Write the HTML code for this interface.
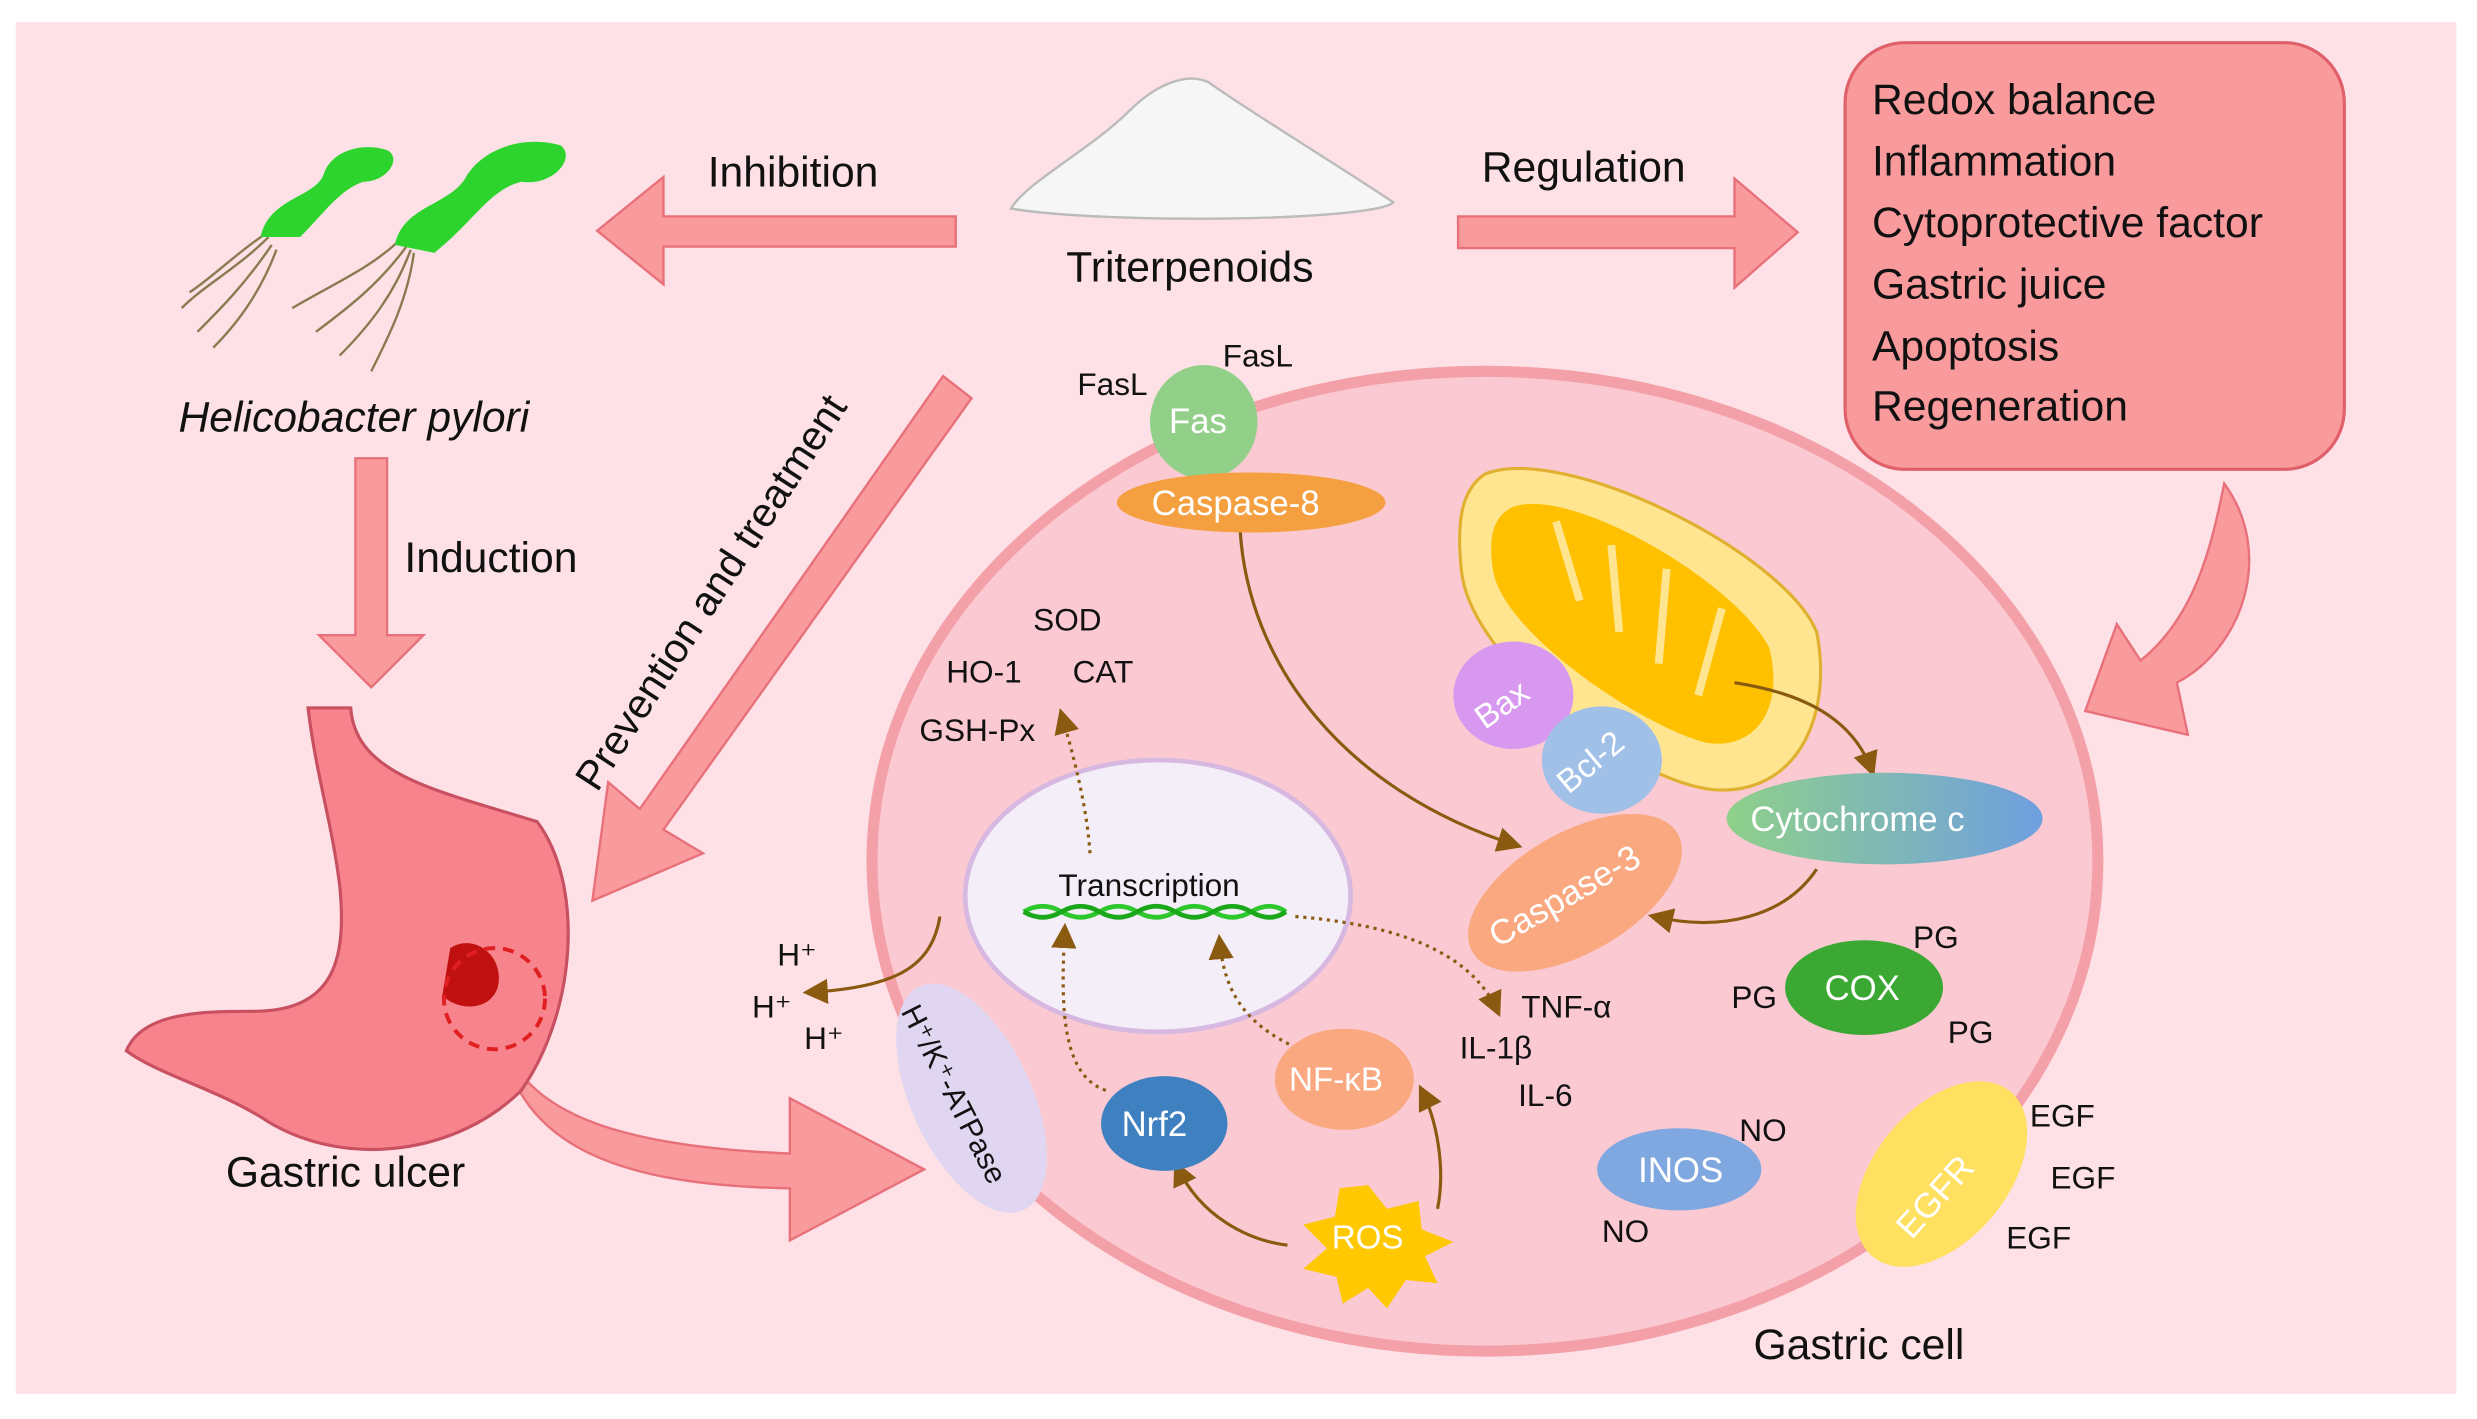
<!DOCTYPE html>
<html><head><meta charset="utf-8"><style>
html,body{margin:0;padding:0;background:#fff;}
svg{display:block;}
text{font-family:"Liberation Sans",sans-serif;}
</style></head><body>
<svg width="2477" height="1419" viewBox="0 0 1568 898" preserveAspectRatio="none" xmlns="http://www.w3.org/2000/svg">
<defs>
<linearGradient id="cyt" x1="0" x2="1"><stop offset="0" stop-color="#8fd08a"/><stop offset="1" stop-color="#6f9fe0"/></linearGradient>
<marker id="ah" markerWidth="8" markerHeight="8" refX="6" refY="4" orient="auto"><path d="M0,0 L8,4 L0,8 z" fill="#8a5a10"/></marker>
</defs>
<rect x="0" y="0" width="1568" height="898" fill="#fff"/>
<rect x="10" y="14" width="1545" height="868" fill="#fde1e7"/>
<ellipse cx="940" cy="545" rx="388" ry="310" fill="#fbc9d2" stroke="#f4a0a8" stroke-width="7"/>
<polygon points="605,137 420,137 420,112 378,146 420,180 420,156 605,156" fill="#f99a9c" stroke="#e8707a" stroke-width="1.5"/>
<polygon points="923,137 1098,137 1098,113 1138,147 1098,182 1098,157 923,157" fill="#f99a9c" stroke="#e8707a" stroke-width="1.5"/>
<polygon points="225,290 245,290 245,402 268,402 235,435 202,402 225,402" fill="#f99a9c" stroke="#e8707a" stroke-width="1.5"/>
<polygon points="597,238 615,252 420,525 445,540 375,570 385,495 405,512" fill="#f99a9c" stroke="#e8707a" stroke-width="1.5"/>
<path d="M1408,306 C1440,350 1420,410 1378,432 L1385,465 L1320,450 L1340,395 L1355,418 C1390,390 1400,345 1408,306 z" fill="#f99a9c" stroke="#e8707a" stroke-width="1.5"/>
<path d="M315,640 C320,700 380,725 500,730 L500,695 L585,740 L500,785 L500,752 C380,750 320,720 315,640 z" fill="#f99a9c" stroke="#e8707a" stroke-width="1.5"/>
<rect x="1168" y="27" width="316" height="270" rx="38" fill="#f99a9c" stroke="#e0606a" stroke-width="2"/>
<g font-size="27" fill="#111">
<text x="1185" y="72">Redox balance</text>
<text x="1185" y="111">Inflammation</text>
<text x="1185" y="150">Cytoprotective factor</text>
<text x="1185" y="189">Gastric juice</text>
<text x="1185" y="228">Apoptosis</text>
<text x="1185" y="266">Regeneration</text>
</g>
<path d="M640,132 C650,115 690,95 715,70 C730,55 750,45 765,52 C790,70 840,100 882,128 C870,140 700,142 640,132 z" fill="#f6f6f6" stroke="#bbb" stroke-width="1.5"/>
<g font-size="27" fill="#111">
<text x="448" y="118">Inhibition</text>
<text x="938" y="115">Regulation</text>
<text x="675" y="178">Triterpenoids</text>
<text x="113" y="273" font-style="italic">Helicobacter pylori</text>
<text x="256" y="362">Induction</text>
<text x="143" y="751">Gastric ulcer</text>
<text x="1110" y="860">Gastric cell</text>
<text transform="translate(378,502) rotate(-57)" font-size="26">Prevention and treatment</text>
</g>
<g stroke="#8a7a50" stroke-width="1.5" fill="none">
<path d="M170,150 C150,170 130,180 115,195"/><path d="M172,155 C155,180 140,195 125,210"/><path d="M175,158 C165,185 150,205 135,220"/><path d="M168,148 C150,160 135,175 120,185"/>
<path d="M255,150 C235,170 210,180 185,195"/><path d="M258,155 C240,180 220,195 200,210"/><path d="M260,158 C250,185 235,205 215,225"/><path d="M262,160 C258,190 245,215 235,235"/>
</g>
<path d="M165,150 C170,125 200,125 205,110 C210,95 230,90 245,95 C255,100 245,115 230,115 C215,120 205,135 190,150 z" fill="#2ed42e"/>
<path d="M250,155 C255,130 285,130 295,112 C305,95 330,85 355,92 C365,100 350,118 330,115 C310,120 300,140 275,160 z" fill="#2ed42e"/>
<path d="M195,448 L222,448 C225,490 275,500 340,520 C370,560 365,640 330,690 C290,730 220,740 170,710 C140,690 100,680 80,665 C90,640 130,640 160,640 C210,640 220,610 215,560 C210,520 200,490 195,448 z" fill="#f7848c" stroke="#c85060" stroke-width="2"/>
<path d="M285,600 C300,590 320,605 315,625 C310,640 290,640 280,630 z" fill="#c01010"/>
<circle cx="313" cy="632" r="32" fill="none" stroke="#e02020" stroke-width="2.5" stroke-dasharray="7,5"/>
<path d="M940,300 C990,280 1130,350 1150,400 C1160,450 1140,500 1090,500 C1040,500 930,420 925,360 C922,330 925,310 940,300 z" fill="#ffe590" stroke="#e0b030" stroke-width="2"/>
<path d="M960,320 C1000,310 1100,370 1120,410 C1130,450 1110,475 1080,470 C1040,460 950,400 945,360 C942,340 945,325 960,320 z" fill="#ffc000"/>
<g stroke="#ffe590" stroke-width="5" fill="none">
<path d="M985,330 L1000,380"/><path d="M1020,345 L1025,400"/><path d="M1055,360 L1050,420"/><path d="M1090,385 L1075,440"/>
</g>
<ellipse cx="733" cy="567" rx="122" ry="86" fill="#f4eef8" stroke="#d6b8e0" stroke-width="3"/>
<text x="670" y="567" font-size="20" fill="#111">Transcription</text>
<path d="M648,577 Q660,570 672,577 T696,577 T720,577 T744,577 T768,577 T792,577 T814,577" fill="none" stroke="#2ec82e" stroke-width="3"/>
<path d="M648,577 Q660,584 672,577 T696,577 T720,577 T744,577 T768,577 T792,577 T814,577" fill="none" stroke="#1aa81a" stroke-width="3"/>
<g fill="none" stroke="#8a5a10" stroke-width="2">
<path d="M785,335 C790,420 850,500 960,535" marker-end="url(#ah)"/>
<path d="M1098,432 C1150,440 1175,460 1185,488" marker-end="url(#ah)"/>
<path d="M1150,550 C1130,580 1090,590 1047,580" marker-end="url(#ah)"/>
<path d="M595,580 C590,610 570,625 512,628" marker-end="url(#ah)"/>
<path d="M815,788 C790,785 760,770 745,738" marker-end="url(#ah)"/>
<path d="M910,765 C915,740 910,710 900,690" marker-end="url(#ah)"/>
</g>
<g fill="none" stroke="#8a5a10" stroke-width="2" stroke-dasharray="2,3">
<path d="M690,540 C688,510 680,480 672,452" marker-end="url(#ah)"/>
<path d="M700,690 C670,680 672,630 674,588" marker-end="url(#ah)"/>
<path d="M825,665 C790,650 775,630 772,595" marker-end="url(#ah)"/>
<path d="M820,580 C880,585 930,600 948,640" marker-end="url(#ah)"/>
</g>
<ellipse cx="762" cy="267" rx="34" ry="36" fill="#92d08a"/>
<text x="740" y="274" font-size="22" fill="#fff">Fas</text>
<ellipse cx="792" cy="318" rx="85" ry="19" fill="#f5a040"/>
<text x="729" y="326" font-size="22" fill="#fff">Caspase-8</text>
<ellipse cx="958" cy="440" rx="38" ry="34" fill="#d898f0"/>
<text transform="translate(940,462) rotate(-35)" font-size="21" fill="#fff">Bax</text>
<ellipse cx="1014" cy="481" rx="38" ry="34" fill="#a0c0e8"/>
<text transform="translate(993,503) rotate(-40)" font-size="21" fill="#fff">Bcl-2</text>
<ellipse cx="1193" cy="518" rx="100" ry="29" fill="url(#cyt)"/>
<text x="1108" y="526" font-size="22" fill="#fff">Cytochrome c</text>
<ellipse cx="997" cy="565" rx="75" ry="38" transform="rotate(-30 997 565)" fill="#f9a880"/>
<text transform="translate(948,600) rotate(-30)" font-size="22" fill="#fff">Caspase-3</text>
<ellipse cx="1180" cy="625" rx="50" ry="30" fill="#3aa832"/>
<text x="1155" y="633" font-size="22" fill="#fff">COX</text>
<ellipse cx="615" cy="695" rx="38" ry="78" transform="rotate(-25 615 695)" fill="#e0d6f2"/>
<text transform="translate(570,640) rotate(63)" font-size="19" fill="#111">H⁺/K⁺-ATPase</text>
<ellipse cx="737" cy="711" rx="40" ry="30" fill="#3f80c0"/>
<text x="710" y="719" font-size="22" fill="#fff">Nrf2</text>
<ellipse cx="851" cy="683" rx="44" ry="32" fill="#f9a880"/>
<text x="816" y="690" font-size="21" fill="#fff">NF-κB</text>
<polygon points="866,750 878,765 898,760 900,778 920,786 902,795 910,812 890,810 878,828 866,815 850,825 846,808 825,803 840,790 825,775 845,770 848,752" fill="#ffc800"/>
<text x="843" y="790" font-size="21" fill="#fff">ROS</text>
<ellipse cx="1063" cy="740" rx="52" ry="26" fill="#80a8e0"/>
<text x="1037" y="748" font-size="22" fill="#fff">INOS</text>
<ellipse cx="1229" cy="743" rx="42" ry="68" transform="rotate(40 1229 743)" fill="#ffe060"/>
<text transform="translate(1210,785) rotate(-48)" font-size="22" fill="#fff">EGFR</text>
<g font-size="20" fill="#111">
<text x="682" y="250">FasL</text><text x="774" y="232">FasL</text>
<text x="654" y="399">SOD</text><text x="599" y="432">HO-1</text><text x="679" y="432">CAT</text><text x="582" y="469">GSH-Px</text>
<text x="492" y="611">H⁺</text><text x="476" y="644">H⁺</text><text x="509" y="664">H⁺</text>
<text x="963" y="644">TNF-α</text><text x="924" y="670">IL-1β</text><text x="961" y="700">IL-6</text>
<text x="1211" y="600">PG</text><text x="1096" y="638">PG</text><text x="1233" y="660">PG</text>
<text x="1101" y="722">NO</text><text x="1014" y="786">NO</text>
<text x="1285" y="713">EGF</text><text x="1298" y="752">EGF</text><text x="1270" y="790">EGF</text>
</g>
</svg>
</body></html>
